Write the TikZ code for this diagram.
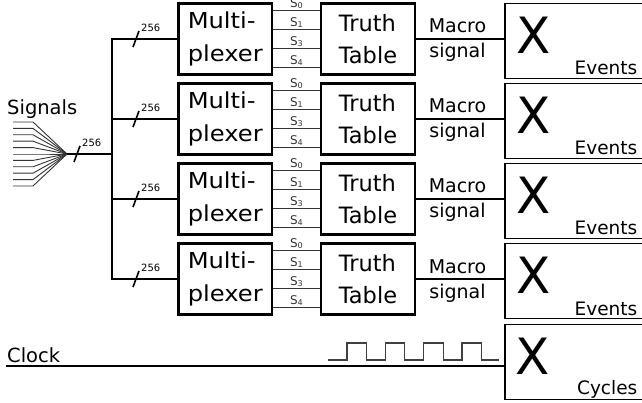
\documentclass[tikz,border=0pt]{standalone}
\usepackage{fontspec}
\setmainfont{DejaVu Sans}
\newfontfamily\widefont[FakeStretch=1.1]{DejaVu Sans}

\newcommand\muxtextstyle{\widefont\fontsize{22}{33.4}\selectfont}
\newcommand\tabletextstyle{\fontsize{22.5}{31.6}\selectfont}
\newcommand\labeltextstyle{\fontsize{19.5}{22}\selectfont}
\newcommand\macrotextstyle{\fontsize{19}{22}\selectfont}
\newcommand\eventtextstyle{\fontsize{18.5}{22}\selectfont}
\newcommand\bigxstyle{\fontsize{50}{50}\selectfont}
\newcommand\buswidthstyle{\fontsize{10}{12}\selectfont}
\newcommand\selecttextstyle{\fontsize{12}{14}\selectfont}

\tikzset{
  blockbox/.style={draw, line width=2.4pt, inner sep=0pt, minimum width=93.5pt, minimum height=71pt, align=left},
  eventbox/.style={draw, line width=1.7pt, inner sep=0pt, minimum width=145pt, minimum height=75pt},
  bus/.style={line width=2.4pt},
  selectwire/.style={line width=0.9pt, black!80},
  selectlabel/.style={above, inner sep=0.6pt, font=\selecttextstyle},
  fanwire/.style={line width=0.9pt, black!80},
  macrowire/.style={line width=1.6pt},
  waveline/.style={line width=1.2pt, black!75},
}

\newcommand\busslash[3]{
  \draw[line width=1.6pt] (#2 - 3, #3 + 8) -- (#2 + 3, #3 - 8) ;
  \node[anchor=south west, inner sep=0pt, font=\buswidthstyle] (#1) at (#2 + 5, #3 - 7.5) {256} ;
}
\newcommand\fanline[2]{
  \coordinate (in#1) at (13, #2) ;
  \draw[fanwire] (in#1) -- ++ (20, 0) -- (fan) ;
}
\newcommand\muxrow[2]{
  \node[blockbox, font=\muxtextstyle] (mux#1) at (225.25, #2) {Multi-\\plexer} ;
  \node[blockbox, font=\tabletextstyle] (tt#1) at (368, #2) {Truth\\Table} ;
  \node[eventbox] (ev#1) at (577.5, #2 + 2) {} ;
  \node[inner sep=0pt, font=\bigxstyle] (x#1) at (534, #2 - 4) {X} ;
  \node[anchor=base east, inner sep=0pt, font=\eventtextstyle] (evt#1) at (637.5, #2 + 36) {Events} ;
  \draw[selectwire] ([yshift=29pt]mux#1.east) -- node[selectlabel] (sa#1) {S\textsubscript{0}} ([yshift=29pt]tt#1.west) ;
  \draw[selectwire] ([yshift=10pt]mux#1.east) -- node[selectlabel] (sb#1) {S\textsubscript{1}} ([yshift=10pt]tt#1.west) ;
  \draw[selectwire] ([yshift=-9pt]mux#1.east) -- node[selectlabel] (sc#1) {S\textsubscript{3}} ([yshift=-9pt]tt#1.west) ;
  \draw[selectwire] ([yshift=-28pt]mux#1.east) -- node[selectlabel] (sd#1) {S\textsubscript{4}} ([yshift=-28pt]tt#1.west) ;
  \draw[macrowire] (tt#1.east) -- (tt#1.east -| ev#1.west) ;
  \node[anchor=base, inner sep=0pt, font=\macrotextstyle] (mac#1) at (457.5, #2 - 6) {Macro} ;
  \node[anchor=base, inner sep=0pt, font=\macrotextstyle] (sig#1) at (457.5, #2 + 19) {signal} ;
}

\begin{document}
\begin{tikzpicture}[x=1pt, y=-1pt]
    \useasboundingbox (0, 0) rectangle (642, 403) ;
    \muxrow{1}{39}
    \muxrow{2}{119}
    \muxrow{3}{199}
    \muxrow{4}{279}
    \node[anchor=base west, inner sep=0pt, font=\labeltextstyle] (signals) at (7, 115) {Signals} ;
    \coordinate (fan) at (67, 154) ;
    \coordinate (busx) at (112, 154) ;
    \fanline{a}{122}
    \fanline{b}{128.4}
    \fanline{c}{134.8}
    \fanline{d}{141.2}
    \fanline{e}{147.6}
    \fanline{f}{154}
    \fanline{g}{160.4}
    \fanline{h}{166.8}
    \fanline{i}{173.2}
    \fanline{j}{179.6}
    \fanline{k}{186}
    \draw[bus] (fan) -- (busx) ;
    \draw[bus] (mux1.west) -| (busx |- mux4.west) -- (mux4.west) ;
    \draw[bus] (busx |- mux2.west) -- (mux2.west) ;
    \draw[bus] (busx |- mux3.west) -- (mux3.west) ;
    \busslash{bw0}{77}{154}
    \busslash{bw1}{136}{39}
    \busslash{bw2}{136}{119}
    \busslash{bw3}{136}{199}
    \busslash{bw4}{136}{279}
    \node[eventbox] (evc) at (577.5, 362) {} ;
    \node[inner sep=0pt, font=\bigxstyle] (xc) at (533, 356.5) {X} ;
    \node[anchor=base east, inner sep=0pt, font=\eventtextstyle] (cycles) at (637.5, 394) {Cycles} ;
    \node[anchor=base west, inner sep=0pt, font=\labeltextstyle] (clock) at (7, 362) {Clock} ;
    \coordinate (clkin) at (6, 365.5) ;
    \draw[line width=2pt] (clkin) -- (clkin -| evc.west) ;
    \coordinate (wave) at (328, 360) ;
    \draw[waveline] (wave) -- ++ (19, 0) -- ++ (0, -17) -- ++ (19.5, 0) -- ++ (0, 17)
      -- ++ (18.8, 0) -- ++ (0, -17) -- ++ (19.5, 0) -- ++ (0, 17)
      -- ++ (18.8, 0) -- ++ (0, -17) -- ++ (19.5, 0) -- ++ (0, 17)
      -- ++ (18.8, 0) -- ++ (0, -17) -- ++ (19.5, 0) -- ++ (0, 17) -- ++ (17.6, 0) ;
  \end{tikzpicture}
\end{document}
